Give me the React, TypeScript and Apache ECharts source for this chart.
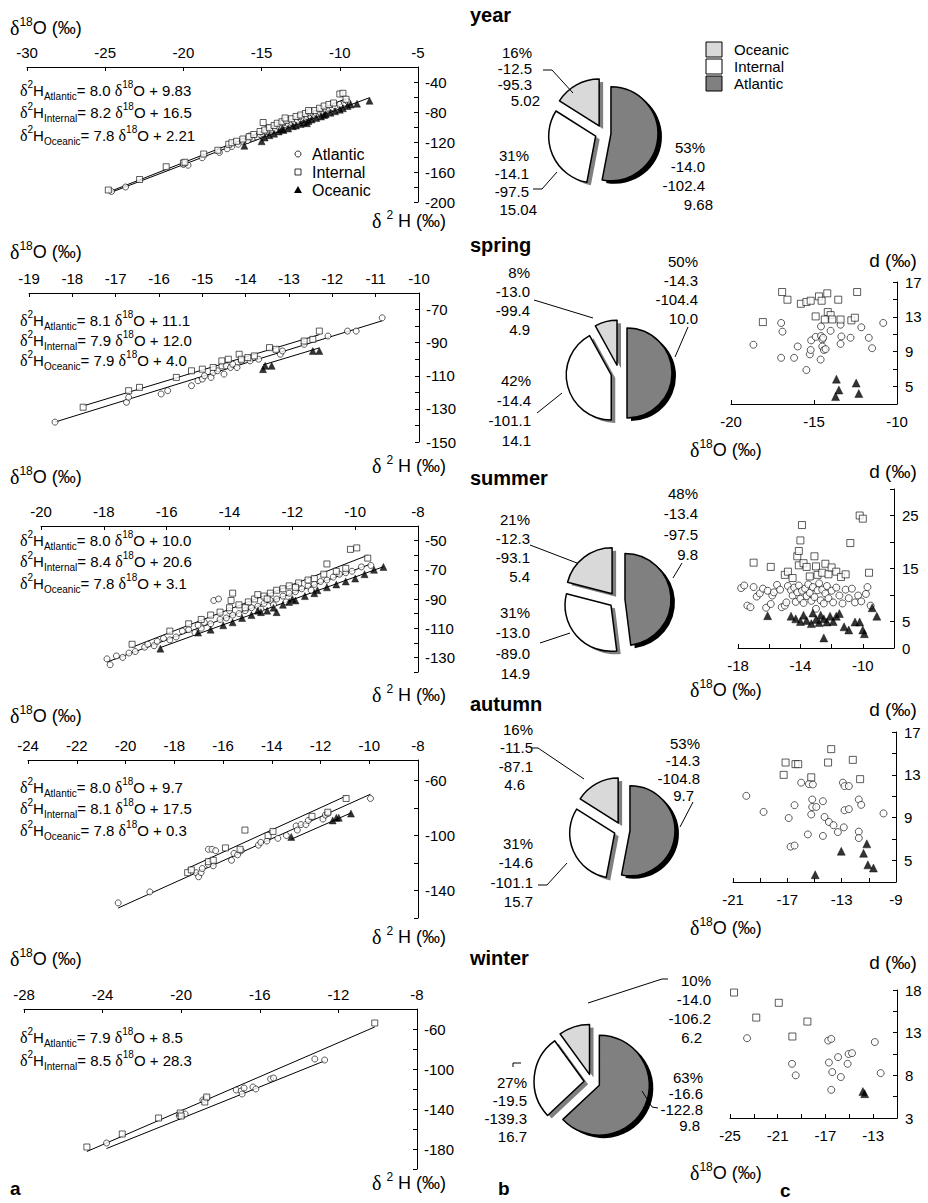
import React, { useEffect, useRef } from "react";
import * as echarts from "echarts";

type Pt = [number, number];

const SANS = "Liberation Sans, Arial, Helvetica, sans-serif";
const SERIF = "Liberation Serif, Times New Roman, serif";

const groups = ["Atlantic", "Internal", "Oceanic"];

// ---------------- column a : δ2H vs δ18O ----------------
const yearAtl: Pt[] = [[-24.6,-186],[-23.7,-180],[-20.0,-150],[-19.7,-151],[-18.8,-141],[-17.7,-134],[-17.2,-129],[-16.9,-126],[-16.5,-123],[-16.2,-119],[-15.9,-118],[-15.6,-115],[-15.3,-113],[-15.1,-110],[-14.9,-109],[-14.7,-106],[-14.5,-107],[-14.3,-104],[-14.1,-103],[-13.9,-100],[-13.7,-99],[-13.5,-97],[-13.3,-96],[-13.1,-94],[-12.9,-93],[-12.7,-91],[-12.5,-89],[-12.3,-88],[-12.1,-86],[-11.9,-85],[-11.7,-83],[-11.5,-82],[-11.3,-80],[-11.1,-79],[-10.9,-77],[-10.7,-75],[-10.5,-74],[-10.3,-72],[-10.0,-70],[-9.7,-68],[-9.5,-66],[-14.6,-101],[-13.6,-94],[-12.6,-86],[-11.2,-76],[-15.8,-112]];
const yearInt: Pt[] = [[-24.8,-184],[-22.8,-170],[-21.1,-153],[-20.0,-148],[-19.9,-147],[-18.7,-136],[-17.8,-131],[-17.1,-123],[-16.9,-121],[-16.6,-119],[-16.2,-116],[-15.8,-113],[-15.5,-110],[-14.9,-94],[-15.1,-106],[-14.8,-104],[-14.5,-101],[-14.2,-98],[-14.0,-95],[-13.7,-93],[-13.4,-91],[-13.1,-89],[-12.8,-86],[-12.5,-84],[-12.2,-82],[-11.9,-80],[-11.6,-78],[-11.3,-75],[-11.0,-72],[-10.7,-70],[-10.4,-68],[-10.0,-56],[-9.8,-55],[-9.6,-63],[-13.5,-88],[-12.0,-78]];
const yearOce: Pt[] = [[-16.1,-125],[-15.0,-119],[-14.8,-114],[-14.5,-111],[-14.2,-109],[-13.9,-106],[-13.6,-104],[-13.3,-102],[-13.0,-99],[-12.8,-98],[-12.5,-96],[-12.3,-94],[-12.0,-92],[-11.8,-90],[-11.5,-88],[-11.2,-86],[-10.9,-83],[-10.6,-81],[-10.3,-79],[-10.0,-77],[-9.8,-75],[-9.5,-72],[-9.3,-70],[-8.9,-69],[-8.1,-65],[-13.7,-103],[-12.1,-95],[-11.0,-84]];
const yearFits = [["Atlantic", "8.0", "9.83"], ["Internal", "8.2", "16.5"], ["Oceanic", "7.8", "2.21"]];
const yearXRange = [-30, -5, 5];
const yearXLabels = [-30, -25, -20, -15, -10, -5];
const yearYRange = [-200, -20, 20];
const yearYLabels = [-200, -160, -120, -80, -40];

const springAtl: Pt[] = [[-18.4,-138],[-16.75,-126],[-16.7,-123],[-15.95,-121],[-15.8,-119],[-15.25,-116],[-15.1,-113],[-15.0,-112],[-14.95,-110],[-14.8,-111],[-14.75,-108],[-14.65,-107],[-14.55,-104],[-14.5,-109],[-14.45,-104],[-14.35,-105],[-14.3,-103],[-14.2,-105],[-14.1,-101],[-13.9,-101],[-13.7,-100],[-13.2,-97],[-13.15,-95],[-12.65,-91],[-12.1,-86],[-11.65,-83],[-11.45,-83],[-10.85,-75]];
const springInt: Pt[] = [[-17.75,-129],[-16.7,-119],[-16.45,-117],[-15.6,-111],[-15.25,-107],[-15.0,-106],[-14.75,-105],[-14.55,-101],[-14.4,-100],[-14.15,-97],[-14.1,-100],[-13.95,-99],[-13.8,-98],[-13.45,-93],[-13.3,-94],[-12.65,-89],[-12.45,-88],[-12.3,-83]];
const springOce: Pt[] = [[-13.6,-106],[-13.55,-104],[-13.4,-104],[-12.45,-95],[-12.3,-95]];
const springFits = [["Atlantic", "8.1", "11.1"], ["Internal", "7.9", "12.0"], ["Oceanic", "7.9", "4.0"]];
const springXRange = [-19, -10, 1];
const springXLabels = [-19, -18, -17, -16, -15, -14, -13, -12, -11, -10];
const springYRange = [-150, -60, 10];
const springYLabels = [-150, -130, -110, -90, -70];

const summerAtl: Pt[] = [[-17.9,-131],[-17.8,-135],[-17.6,-129],[-17.4,-130],[-17.2,-127],[-17.0,-126],[-16.7,-123],[-16.4,-122],[-16.3,-119],[-16.1,-117],[-15.9,-118],[-15.7,-116],[-15.5,-112],[-15.3,-111],[-15.1,-113],[-14.9,-110],[-14.8,-106],[-14.6,-107],[-14.5,-91],[-14.35,-90],[-14.3,-104],[-14.1,-103],[-13.9,-101],[-13.7,-100],[-13.5,-98],[-13.3,-96],[-13.1,-95],[-12.9,-93],[-12.7,-91],[-12.5,-90],[-12.3,-88],[-12.1,-86],[-11.9,-85],[-11.7,-83],[-11.5,-81],[-11.3,-80],[-11.1,-78],[-10.9,-77],[-10.7,-75],[-10.5,-73],[-10.3,-72],[-10.1,-71],[-9.8,-68],[-9.5,-67],[-13.0,-97],[-12.2,-92],[-14.0,-98],[-15.0,-108],[-16.6,-121],[-11.4,-84],[-12.6,-94]];
const summerInt: Pt[] = [[-17.1,-121],[-15.9,-112],[-15.3,-107],[-14.9,-104],[-14.6,-101],[-14.3,-99],[-14.0,-96],[-13.9,-86],[-13.95,-91],[-13.7,-94],[-13.4,-92],[-13.2,-90],[-13.1,-87],[-12.9,-88],[-12.7,-86],[-12.5,-84],[-12.3,-83],[-12.1,-81],[-11.8,-79],[-11.5,-77],[-11.3,-76],[-11.0,-73],[-10.9,-66],[-10.6,-71],[-10.3,-69],[-10.15,-56],[-9.95,-55],[-9.6,-62],[-12.8,-90],[-13.5,-96],[-11.9,-82]];
const summerOce: Pt[] = [[-16.2,-124],[-15.0,-113],[-14.6,-111],[-14.2,-108],[-13.9,-106],[-13.6,-103],[-13.3,-101],[-13.0,-99],[-12.8,-98],[-12.6,-96],[-12.5,-99],[-12.3,-94],[-12.1,-92],[-11.9,-91],[-11.6,-88],[-11.3,-86],[-11.2,-84],[-10.9,-82],[-10.6,-80],[-10.3,-78],[-10.0,-76],[-9.7,-73],[-9.4,-70],[-9.1,-68],[-13.1,-98],[-12.0,-90]];
const summerFits = [["Atlantic", "8.0", "10.0"], ["Internal", "8.4", "20.6"], ["Oceanic", "7.8", "3.1"]];
const summerXRange = [-20, -8, 2];
const summerXLabels = [-20, -18, -16, -14, -12, -10, -8];
const summerYRange = [-140, -40, 10];
const summerYLabels = [-130, -110, -90, -70, -50];

const autumnAtl: Pt[] = [[-20.3,-149],[-19.0,-141],[-17.1,-127],[-17.0,-130],[-16.9,-127],[-16.85,-124],[-16.6,-121],[-16.4,-122],[-16.6,-110],[-16.45,-110],[-16.3,-111],[-15.65,-118],[-15.55,-113],[-15.4,-114],[-15.25,-111],[-14.55,-107],[-14.45,-105],[-14.2,-104],[-13.75,-102],[-13.4,-100],[-13.0,-93],[-12.95,-96],[-12.8,-92],[-12.6,-92],[-12.5,-89],[-11.9,-88],[-11.8,-85],[-11.7,-84],[-9.95,-73]];
const autumnInt: Pt[] = [[-17.45,-127],[-17.3,-125],[-16.6,-119],[-16.4,-118],[-15.9,-109],[-15.3,-110],[-15.1,-96],[-14.15,-100],[-13.95,-97],[-12.35,-86],[-11.7,-83],[-10.95,-73]];
const autumnOce: Pt[] = [[-13.2,-101],[-11.5,-89],[-11.35,-87],[-11.25,-87],[-10.75,-84]];
const autumnFits = [["Atlantic", "8.0", "9.7"], ["Internal", "8.1", "17.5"], ["Oceanic", "7.8", "0.3"]];
const autumnXRange = [-24, -8, 2];
const autumnXLabels = [-24, -22, -20, -18, -16, -14, -12, -10, -8];
const autumnYRange = [-160, -45, 20];
const autumnYLabels = [-140, -100, -60];

const winterAtl: Pt[] = [[-23.8,-174],[-20.1,-147],[-19.8,-145],[-18.9,-131],[-18.7,-129],[-17.2,-121],[-16.95,-122],[-16.9,-125],[-16.8,-119],[-16.35,-118],[-16.2,-120],[-15.45,-110],[-15.3,-109],[-13.2,-90],[-12.7,-91]];
const winterInt: Pt[] = [[-24.8,-178],[-23.0,-165],[-21.15,-149],[-20.05,-144],[-20.0,-147],[-18.8,-133],[-18.7,-128],[-10.15,-54]];
const winterOce: Pt[] = [];
const winterFits = [["Atlantic", "7.9", "8.5"], ["Internal", "8.5", "28.3"]];
const winterXRange = [-28, -8, 4];
const winterXLabels = [-28, -24, -20, -16, -12, -8];
const winterYRange = [-200, -40, 20];
const winterYLabels = [-180, -140, -100, -60];

// ---------------- column b : pies ----------------
const pieColors = ["#808080", "#ffffff", "#d9d9d9"];
const pieSideColors = ["#000000", "#7f7f7f", "#7f7f7f"];
const yearPct = [53, 31, 16];
const yearStats = [["-14.0", "-102.4", "9.68"], ["-14.1", "-97.5", "15.04"], ["-12.5", "-95.3", "5.02"]];
const springPct = [50, 42, 8];
const springStats = [["-14.3", "-104.4", "10.0"], ["-14.4", "-101.1", "14.1"], ["-13.0", "-99.4", "4.9"]];
const summerPct = [48, 31, 21];
const summerStats = [["-13.4", "-97.5", "9.8"], ["-13.0", "-89.0", "14.9"], ["-12.3", "-93.1", "5.4"]];
const autumnPct = [53, 31, 16];
const autumnStats = [["-14.3", "-104.8", "9.7"], ["-14.6", "-101.1", "15.7"], ["-11.5", "-87.1", "4.6"]];
const winterPct = [63, 27, 10];
const winterStats = [["-16.6", "-122.8", "9.8"], ["-19.5", "-139.3", "16.7"], ["-14.0", "-106.2", "6.2"]];
const seasonNames = ["year", "spring", "summer", "autumn", "winter"];

// ---------------- column c : d vs δ18O ----------------
const springDAtl: Pt[] = [[-18.65,9.8],[-16.98,12.3],[-16.9,11.3],[-16.98,8.3],[-16.2,8.3],[-15.98,9.6],[-15.46,6.9],[-15.25,8.7],[-15.2,9.2],[-15.17,10.3],[-14.9,10.7],[-14.6,8.1],[-14.58,11.9],[-14.58,10.8],[-14.5,10.4],[-14.45,10.6],[-14.5,9.6],[-14.4,9.2],[-14.3,9.3],[-14.0,11.4],[-13.4,12.1],[-13.35,10.75],[-13.4,9.9],[-12.8,10.6],[-12.15,11.8],[-11.7,10.6],[-11.5,9.4],[-10.83,12.3]];
const springDInt: Pt[] = [[-18.08,12.4],[-16.92,15.85],[-16.6,14.97],[-15.79,14.5],[-15.46,14.7],[-15.2,14.85],[-14.7,15.35],[-14.54,14.85],[-14.2,15.7],[-13.54,14.97],[-12.4,15.85],[-14.9,13.05],[-14.17,13.55],[-14.0,13.2],[-14.35,12.7],[-13.9,12.7],[-13.4,12.7],[-12.75,12.6],[-12.54,12.9]];
const springDOce: Pt[] = [[-13.65,5.85],[-13.5,4.6],[-13.7,3.85],[-12.46,5.4],[-12.3,4.2]];
const springCXRange = [-20, -10, 5];
const springCXLabels = [-20, -15, -10];
const springCYRange = [3, 17, 2];
const springCYLabels = [5, 9, 13, 17];

const summerDAtl: Pt[] = [[-17.8,11.3],[-17.6,11.8],[-17.4,8.0],[-17.2,7.7],[-17.0,11.5],[-16.8,9.7],[-16.6,10.3],[-16.4,11.2],[-16.2,7.6],[-16.1,10.8],[-15.9,8.3],[-15.8,9.9],[-15.7,10.5],[-15.5,11.9],[-15.3,11.0],[-15.2,7.7],[-15.0,8.0],[-14.9,8.6],[-14.8,11.7],[-14.6,10.9],[-14.5,9.9],[-14.4,11.4],[-14.3,8.7],[-14.2,10.5],[-14.1,11.8],[-14.0,9.3],[-13.9,10.8],[-13.8,8.5],[-13.7,11.2],[-13.6,9.8],[-13.5,12.0],[-13.4,10.4],[-13.3,8.9],[-13.2,11.5],[-13.1,9.6],[-13.0,7.4],[-12.9,10.9],[-12.8,12.2],[-12.7,9.0],[-12.6,11.0],[-12.5,8.4],[-12.4,10.3],[-12.3,11.7],[-12.2,9.4],[-12.0,10.8],[-11.9,8.6],[-11.7,11.4],[-11.5,9.9],[-11.3,8.4],[-11.1,11.0],[-10.9,9.4],[-10.7,11.2],[-10.5,8.6],[-10.3,9.9],[-10.1,8.8],[-9.8,10.2],[-9.5,8.0],[-9.7,11.5]];
const summerDInt: Pt[] = [[-17.0,16.1],[-15.9,15.3],[-15.0,13.8],[-14.8,14.4],[-14.5,13.2],[-14.2,17.3],[-14.1,18.3],[-14.0,20.3],[-13.9,23.2],[-14.1,15.6],[-13.8,16.0],[-13.6,15.3],[-13.4,13.5],[-13.1,17.3],[-13.0,15.4],[-12.9,13.8],[-12.6,14.2],[-12.4,15.9],[-12.2,13.9],[-12.0,15.2],[-11.7,14.4],[-11.4,13.4],[-11.1,13.9],[-10.8,19.8],[-10.2,25.0],[-10.0,24.4],[-9.6,14.2]];
const summerDOce: Pt[] = [[-16.1,6.1],[-14.6,6.0],[-14.3,5.5],[-14.0,5.0],[-13.8,6.2],[-13.6,5.2],[-13.3,4.6],[-13.2,6.6],[-13.0,5.4],[-12.8,4.8],[-12.7,6.2],[-12.5,5.5],[-12.3,4.9],[-12.1,6.0],[-11.9,5.0],[-11.7,6.0],[-11.5,6.5],[-12.5,1.9],[-11.2,4.0],[-10.9,3.4],[-10.5,4.9],[-10.2,4.9],[-10.0,3.4],[-9.9,2.7],[-9.4,7.6],[-9.1,6.0]];
const summerCXRange = [-18, -8, 2];
const summerCXLabels = [-18, -14, -10];
const summerCYRange = [0, 30, 5];
const summerCYLabels = [0, 5, 15, 25];

const autumnDAtl: Pt[] = [[-20.02,11.04],[-18.75,9.54],[-16.9,8.97],[-16.76,6.3],[-16.47,6.4],[-16.47,10.17],[-15.98,12.27],[-15.41,12.14],[-15.12,12.1],[-15.49,7.44],[-15.17,10.7],[-15.17,10.0],[-14.87,10.0],[-15.24,9.3],[-14.38,10.54],[-14.38,7.3],[-14.26,9.07],[-13.94,8.6],[-13.6,8.3],[-13.28,7.66],[-12.91,12.27],[-12.79,11.95],[-12.47,11.95],[-12.79,9.7],[-12.47,9.8],[-12.84,8.1],[-11.74,7.7],[-11.74,7.1],[-11.74,10.7],[-11.56,10.2],[-9.92,9.4]];
const autumnDInt: Pt[] = [[-17.27,13.0],[-17.13,14.15],[-16.4,14.0],[-16.2,14.0],[-15.24,12.77],[-14.0,14.15],[-13.77,15.4],[-12.18,14.4],[-11.64,12.6]];
const autumnDOce: Pt[] = [[-13.03,5.87],[-11.15,6.56],[-11.39,5.68],[-11.07,4.6],[-10.66,4.3],[-14.95,3.68]];
const autumnCXRange = [-21, -9, 2];
const autumnCXLabels = [-21, -17, -13, -9];
const autumnCYRange = [3, 17, 2];
const autumnCYLabels = [5, 9, 13, 17];

const winterDAtl: Pt[] = [[-23.57,12.35],[-19.8,9.35],[-19.49,8.0],[-16.77,12.08],[-16.51,12.27],[-16.71,9.5],[-16.43,8.38],[-15.94,10.13],[-15.71,7.8],[-15.06,10.5],[-14.77,10.6],[-15.14,9.35],[-16.51,6.3],[-12.86,11.9],[-12.37,8.26]];
const winterDInt: Pt[] = [[-24.66,17.7],[-22.8,14.77],[-20.91,16.5],[-18.51,14.3],[-19.77,12.55]];
const winterDOce: Pt[] = [[-13.86,6.1],[-13.71,5.85]];
const winterCXRange = [-25, -11, 2];
const winterCXLabels = [-25, -21, -17, -13];
const winterCYRange = [3, 18, 2.5];
const winterCYLabels = [3, 8, 13, 18];

// ---------------- layout (pixels) ----------------
const layoutA = [[27, 67, 418, 202], [29, 293, 419, 442], [41, 526, 418, 672], [28, 760, 418, 918], [24, 1009, 417, 1169]];
const titleAY = [28, 252, 477, 716, 959];
const h2LabelY = [221, 466, 695, 937, 1183];
const eqLayout = [[90, 22.5], [320, 20], [540, 21.5], [787, 21.5], [1037, 23]];
const layoutC = [[731, 282, 897, 404], [738, 489, 894, 648], [733, 732, 896, 882], [730, 990, 897, 1118]];
const dLabelY = [260, 471, 709, 962];
const cTitleY = [450, 690, 928, 1173];
const seasonTitleY = [15, 245, 478, 704, 958];
const pieLayout = [[603, 133, 47], [619, 373, 45], [617, 600, 46], [622, 830, 45], [592, 1082, 50]];
// [rightX, firstLineY, step, lastLineDx] for Atlantic, Internal, Oceanic
const pieLabelLayout = [
  [[705, 147, 19, 8], [529, 155, 18, 8], [532, 52, 16, 8]],
  [[698, 261, 19, 0], [531, 380, 20, 0], [530, 272, 19, 0]],
  [[698, 493, 20.5, 0], [530, 612, 20.5, 0], [530, 519, 19, 0]],
  [[700, 743, 17.5, -6], [533, 843, 19.5, 0], [533, 729, 18.5, -8]],
  [[703, 1077, 16, -3], [527, 1082, 18, 0], [711, 980, 19, -9]],
];
const leaderLines = [
  [[[543, 70], [552, 70], [573, 93]], [[533, 189], [542, 189], [557, 172]]],
  [[[534, 300], [593, 318]], [[537, 413], [562, 393]], [[688, 327], [675, 357]]],
  [[[530, 545], [577, 563]], [[540, 643], [570, 633]], [[682, 563], [673, 578]]],
  [[[532, 748], [538, 748], [584, 779]], [[538, 885], [547, 885], [567, 863]], [[693, 802], [680, 827]]],
  [[[668, 979], [662, 979], [588, 1003]], [[513, 1067], [513, 1063], [521, 1063]], [[658, 1108], [652, 1107], [642, 1091]]],
];

const richBase: any = {
  d: { fontFamily: SERIF, fontSize: 20, fill: "#000", lineHeight: 24 },
  t: { fontFamily: SANS, fontSize: 18, fill: "#000", lineHeight: 24 },
  sup: { fontFamily: SANS, fontSize: 12, fill: "#000", verticalAlign: "top", lineHeight: 13 },
};
const richEq: any = {
  d: { fontFamily: SERIF, fontSize: 16, fill: "#000", lineHeight: 22 },
  t: { fontFamily: SANS, fontSize: 15, fill: "#000", lineHeight: 22 },
  sup: { fontFamily: SANS, fontSize: 10, fill: "#000", verticalAlign: "top", lineHeight: 11 },
  sub: { fontFamily: SANS, fontSize: 10, fill: "#000", verticalAlign: "bottom", lineHeight: 11 },
};

function txt(x: number, y: number, text: string, extra: any = {}) {
  return {
    type: "text", x, y, silent: true, z: 100,
    style: { text, fill: "#000", fontFamily: SANS, fontSize: 15, align: "left", verticalAlign: "middle", ...extra },
  };
}

function makeAxis(gridIndex: number, range: number[], labels: number[], position: string, margin: number) {
  const [min, max, interval] = range;
  return {
    type: "value", gridIndex, position, min, max, interval,
    axisLine: { show: true, onZero: false, lineStyle: { color: "#000", width: 1 } },
    axisTick: { show: true, inside: true, length: 4, lineStyle: { color: "#000", width: 1 } },
    splitLine: { show: false },
    axisLabel: {
      show: true, color: "#000", fontSize: 15, fontFamily: SANS, margin,
      formatter: (v: number) => (labels.some((l) => Math.abs(l - v) < 1e-6) ? String(v) : ""),
    },
  };
}

const symbols = ["circle", "rect", "triangle"];
function scatterSeries(idx: number, g: number, data: Pt[], big: boolean) {
  const sizes = big ? [7, 7, 8] : [6, 6, 7];
  return {
    type: "scatter", name: groups[g], xAxisIndex: idx, yAxisIndex: idx, data,
    symbol: symbols[g], symbolSize: sizes[g], silent: true, z: 3,
    itemStyle: g === 2
      ? { color: "#000", borderColor: "#000", borderWidth: 0.5 }
      : { color: "#fff", borderColor: "#000", borderWidth: 0.8 },
  };
}

function pieSeries(cx: number, cy: number, r: number, pct: number[], colors: string[], side: boolean) {
  return {
    type: "pie", center: [cx, cy], radius: r, startAngle: 90, clockwise: true,
    selectedMode: "multiple", selectedOffset: 8, silent: true, z: side ? 1 : 2,
    label: { show: false }, labelLine: { show: false }, emphasis: { scale: false },
    data: pct.map((v, i) => {
      const st = side
        ? { color: colors[i], borderWidth: 0 }
        : { color: colors[i], borderColor: "#000", borderWidth: 1.5 };
      return { name: groups[i], value: v, selected: true, itemStyle: st, select: { itemStyle: st } };
    }),
  };
}

function buildOption() {
  const grid: any[] = [];
  const xAxis: any[] = [];
  const yAxis: any[] = [];
  const series: any[] = [];
  const graphic: any[] = [];

  const aPanels = [
    { xr: yearXRange, xl: yearXLabels, yr: yearYRange, yl: yearYLabels, sets: [yearAtl, yearInt, yearOce], fits: yearFits },
    { xr: springXRange, xl: springXLabels, yr: springYRange, yl: springYLabels, sets: [springAtl, springInt, springOce], fits: springFits },
    { xr: summerXRange, xl: summerXLabels, yr: summerYRange, yl: summerYLabels, sets: [summerAtl, summerInt, summerOce], fits: summerFits },
    { xr: autumnXRange, xl: autumnXLabels, yr: autumnYRange, yl: autumnYLabels, sets: [autumnAtl, autumnInt, autumnOce], fits: autumnFits },
    { xr: winterXRange, xl: winterXLabels, yr: winterYRange, yl: winterYLabels, sets: [winterAtl, winterInt, winterOce], fits: winterFits },
  ];
  aPanels.forEach((p, i) => {
    const [l, t, r, b] = layoutA[i];
    grid.push({ left: l, top: t, width: r - l, height: b - t });
    xAxis.push(makeAxis(i, p.xr, p.xl, "top", 7));
    yAxis.push(makeAxis(i, p.yr, p.yl, "right", 7));
    p.fits.forEach(([name, s, c]) => {
      const g = groups.indexOf(name);
      const xs = p.sets[g].map((d) => d[0]);
      const x0 = Math.min(...xs);
      const x1 = Math.max(...xs);
      const k = Number(s);
      const q = Number(c);
      series.push({
        type: "line", xAxisIndex: i, yAxisIndex: i, silent: true, z: 2,
        data: [[x0, k * x0 + q], [x1, k * x1 + q]], symbol: "none",
        lineStyle: { color: "#000", width: 1 },
      });
    });
    p.sets.forEach((data, g) => {
      if (data.length) series.push(scatterSeries(i, g, data, false));
    });
    graphic.push(txt(10, titleAY[i], "{d|δ}{sup|18}{t|O (‰)}", { rich: richBase }));
    graphic.push(txt(372, h2LabelY[i], "{d|δ }{sup|2}{t| H (‰)}", { rich: richBase }));
    const [ey, es] = eqLayout[i];
    p.fits.forEach(([name, s, c], k) => {
      graphic.push(txt(20, ey + k * es, `{d|δ}{sup|2}{t|H}{sub|${name}}{t|= ${s} }{d|δ}{sup|18}{t|O + ${c}}`, { rich: richEq }));
    });
  });

  const cPanels = [
    { xr: springCXRange, xl: springCXLabels, yr: springCYRange, yl: springCYLabels, sets: [springDAtl, springDInt, springDOce] },
    { xr: summerCXRange, xl: summerCXLabels, yr: summerCYRange, yl: summerCYLabels, sets: [summerDAtl, summerDInt, summerDOce] },
    { xr: autumnCXRange, xl: autumnCXLabels, yr: autumnCYRange, yl: autumnCYLabels, sets: [autumnDAtl, autumnDInt, autumnDOce] },
    { xr: winterCXRange, xl: winterCXLabels, yr: winterCYRange, yl: winterCYLabels, sets: [winterDAtl, winterDInt, winterDOce] },
  ];
  cPanels.forEach((p, j) => {
    const i = j + 5;
    const [l, t, r, b] = layoutC[j];
    grid.push({ left: l, top: t, width: r - l, height: b - t });
    xAxis.push(makeAxis(i, p.xr, p.xl, "bottom", 10));
    yAxis.push(makeAxis(i, p.yr, p.yl, "right", 8));
    p.sets.forEach((data, g) => {
      if (data.length) series.push(scatterSeries(i, g, data, true));
    });
    graphic.push(txt(893, dLabelY[j], "d (‰)", { fontSize: 19, align: "center" }));
    graphic.push(txt(690, cTitleY[j], "{d|δ}{sup|18}{t|O (‰)}", { rich: richBase }));
  });

  const pies = [
    { pct: yearPct, stats: yearStats },
    { pct: springPct, stats: springStats },
    { pct: summerPct, stats: summerStats },
    { pct: autumnPct, stats: autumnStats },
    { pct: winterPct, stats: winterStats },
  ];
  pies.forEach((p, s) => {
    const [cx, cy, r] = pieLayout[s];
    series.push(pieSeries(cx + 4, cy + 3, r, p.pct, pieSideColors, true));
    series.push(pieSeries(cx, cy, r, p.pct, pieColors, false));
    groups.forEach((g, gi) => {
      const [rx, y0, step, lastDx] = pieLabelLayout[s][gi];
      const lines = [p.pct[gi] + "%", ...p.stats[gi]];
      lines.forEach((line, li) => {
        graphic.push(txt(rx + (li === lines.length - 1 ? lastDx : 0), y0 + li * step, line, { align: "right" }));
      });
    });
    leaderLines[s].forEach((pts) => {
      graphic.push({ type: "polyline", silent: true, z: 100, shape: { points: pts }, style: { stroke: "#000", lineWidth: 1, fill: null } });
    });
    graphic.push(txt(470, seasonTitleY[s], seasonNames[s], { fontSize: 20, fontWeight: "bold" }));
  });

  // pie legend (year)
  const legendOrder = [2, 1, 0];
  legendOrder.forEach((gi, k) => {
    const y = 42 + k * 17;
    graphic.push({ type: "rect", silent: true, z: 100, shape: { x: 706, y, width: 16, height: 15 }, style: { fill: pieColors[gi], stroke: "#000", lineWidth: 1 } });
    graphic.push(txt(734, y + 7.5, groups[gi]));
  });

  // scatter legend (year, column a)
  const ly = [154, 172, 190];
  graphic.push({ type: "circle", silent: true, z: 100, shape: { cx: 298, cy: ly[0], r: 3 }, style: { fill: "#fff", stroke: "#000", lineWidth: 0.8 } });
  graphic.push({ type: "rect", silent: true, z: 100, shape: { x: 295, y: ly[1] - 3, width: 6, height: 6 }, style: { fill: "#fff", stroke: "#000", lineWidth: 0.8 } });
  graphic.push({ type: "polygon", silent: true, z: 100, shape: { points: [[298, ly[2] - 4], [302, ly[2] + 3], [294, ly[2] + 3]] }, style: { fill: "#000" } });
  groups.forEach((g, k) => graphic.push(txt(312, ly[k], g, { fontSize: 16 })));

  // panel letters
  graphic.push(txt(10, 1188, "a", { fontSize: 19, fontWeight: "bold" }));
  graphic.push(txt(498, 1188, "b", { fontSize: 19, fontWeight: "bold" }));
  graphic.push(txt(780, 1190, "c", { fontSize: 19, fontWeight: "bold" }));

  return {
    animation: false,
    backgroundColor: "#fff",
    textStyle: { fontFamily: SANS },
    grid, xAxis, yAxis, series, graphic,
  };
}

export default function App() {
  const ref = useRef<HTMLDivElement>(null);
  useEffect(() => {
    if (!ref.current) return;
    const chart = echarts.init(ref.current, null, { renderer: "svg" });
    chart.setOption(buildOption());
    return () => chart.dispose();
  }, []);
  return (
    <div
      ref={ref}
      style={{ position: "absolute", left: 0, top: 0, width: 928, height: 1203, background: "#fff" }}
    />
  );
}
